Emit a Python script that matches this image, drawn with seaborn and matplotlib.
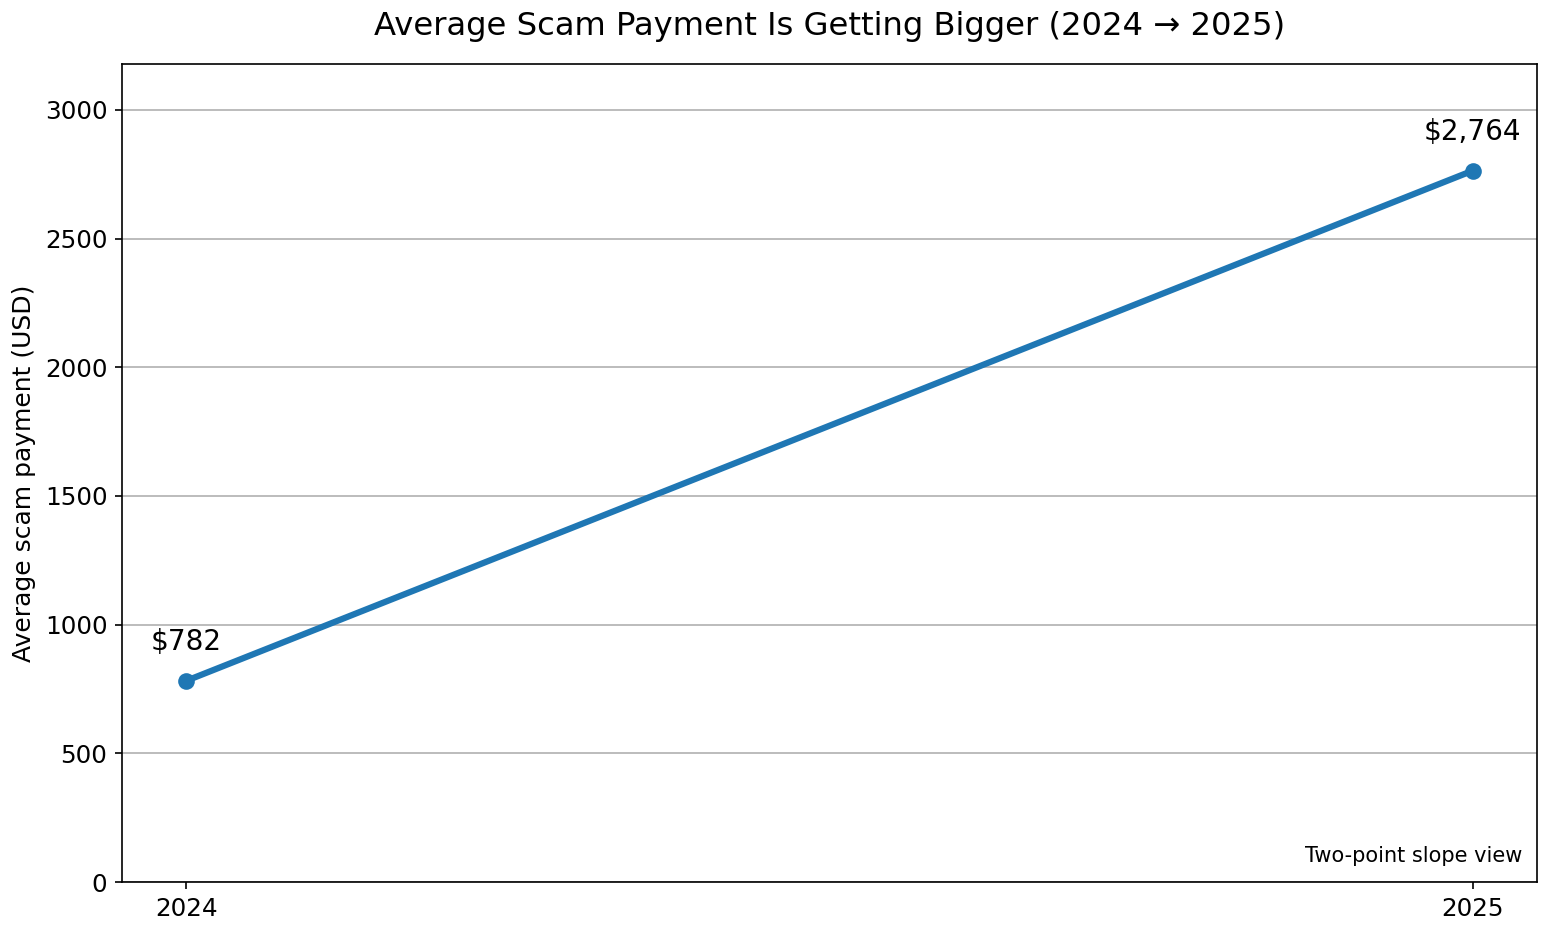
import matplotlib
matplotlib.use("Agg")
import matplotlib.pyplot as plt
import seaborn as sns
import pandas as pd

years = [2024, 2025]
avg_payment = [782, 2764]
labels = ["$782", "$2,764"]

df = pd.DataFrame({"year": years, "payment": avg_payment})

fig = plt.figure(figsize=(1551/150, 934/150), dpi=150)
ax = fig.add_axes([122/1551, 1 - 882/934, (1537-122)/1551, (882-64)/934])

sns.lineplot(data=df, x="year", y="payment", marker="o", linewidth=3,
             markersize=8, color="#1f77b4", markeredgewidth=0, ax=ax)

for x, y, t in zip(years, avg_payment, labels):
    ax.annotate(t, (x, y), xytext=(0, 12), textcoords="offset points",
                ha="center", va="bottom", fontsize=13.4)

ax.set_ylim(0, max(avg_payment) * 1.15)
ax.set_xticks(years)
ax.set_xticklabels([str(y) for y in years])
ax.tick_params(labelsize=11.8)
ax.set_xlabel("")
ax.set_ylabel("Average scam payment (USD)", fontsize=12)
ax.yaxis.grid(True, color="#b0b0b0", linewidth=0.8)
ax.set_axisbelow(True)
ax.set_title("Average Scam Payment Is Getting Bigger (2024 \u2192 2025)", fontsize=15.5, pad=14)
ax.text(0.99, 0.02, "Two-point slope view", transform=ax.transAxes,
        ha="right", va="bottom", fontsize=10)

fig.savefig("out.png", dpi=150)
